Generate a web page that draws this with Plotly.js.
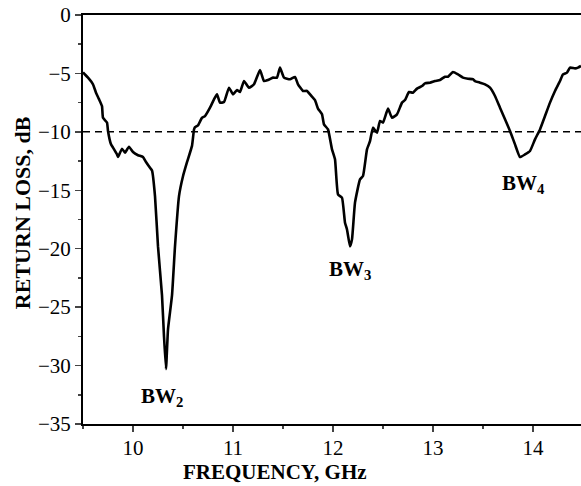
<!DOCTYPE html>
<html>
<head>
<meta charset="utf-8">
<script src="https://cdn.plot.ly/plotly-3.0.1.min.js"></script>
<style>html,body{margin:0;padding:0;background:#fff;}#chart{width:581px;height:486px;}</style>
</head>
<body>
<div id="chart"></div>
<script>
// Frequency (GHz)
const freq = [9.50,9.51,9.55,9.60,9.63,9.66,9.69,9.70,9.74,9.75,9.78,9.80,9.84,9.85,9.89,9.92,9.96,10.00,10.05,10.10,10.13,10.17,10.19,10.22,10.25,10.29,10.31,10.33,10.35,10.39,10.42,10.46,10.50,10.54,10.59,10.61,10.62,10.65,10.69,10.72,10.77,10.81,10.84,10.87,10.91,10.96,11.00,11.04,11.07,11.11,11.16,11.21,11.27,11.31,11.35,11.40,11.44,11.47,11.51,11.57,11.62,11.65,11.70,11.74,11.79,11.82,11.85,11.89,11.91,11.95,11.99,12.02,12.05,12.09,12.12,12.14,12.17,12.19,12.22,12.27,12.30,12.34,12.37,12.40,12.44,12.47,12.50,12.55,12.59,12.64,12.69,12.72,12.76,12.80,12.84,12.89,12.92,12.97,13.02,13.07,13.12,13.15,13.20,13.25,13.30,13.35,13.40,13.42,13.47,13.52,13.57,13.62,13.67,13.72,13.77,13.82,13.87,13.92,13.97,14.02,14.07,14.12,14.17,14.22,14.27,14.30,14.34,14.37,14.42,14.45,14.48];
// Return loss (dB)
const returnLoss = [-4.9,-5.0,-5.36,-5.93,-6.65,-7.2,-7.8,-8.8,-9.2,-9.93,-11.07,-11.35,-11.93,-12.15,-11.44,-11.78,-11.27,-11.73,-12.0,-12.15,-12.58,-13.07,-13.3,-15.5,-19.8,-24.0,-27.5,-30.3,-26.9,-24.0,-19.8,-15.5,-13.8,-12.6,-11.2,-9.8,-9.6,-9.44,-8.79,-8.65,-7.93,-7.22,-6.79,-7.5,-7.45,-6.22,-6.79,-6.42,-6.59,-5.65,-6.22,-5.93,-4.71,-5.65,-5.56,-5.36,-5.36,-4.5,-5.36,-5.5,-5.3,-5.93,-6.5,-6.5,-6.99,-7.28,-8.01,-8.5,-9.36,-9.79,-11.5,-12.35,-15.35,-15.64,-17.77,-18.35,-19.8,-19.2,-16.06,-14.07,-13.78,-11.5,-10.8,-9.64,-10.07,-9.07,-9.21,-8.01,-8.79,-8.5,-7.5,-7.28,-6.59,-6.65,-6.3,-6.08,-5.85,-5.79,-5.65,-5.56,-5.28,-5.28,-4.88,-5.08,-5.36,-5.45,-5.5,-5.65,-5.79,-5.93,-6.22,-6.93,-7.93,-8.93,-9.93,-11.07,-12.16,-11.93,-11.64,-10.64,-9.79,-8.65,-7.5,-6.5,-5.65,-5.08,-4.93,-4.5,-4.57,-4.5,-4.36];
const xTicks = [10, 11, 12, 13, 14];
const yTicks = [0, -5, -10, -15, -20, -25, -30, -35];
const threshold = -10;
const bandLabels = ["BW<sub>2</sub>", "BW<sub>3</sub>", "BW<sub>4</sub>"];
const bandX = [10.29, 12.17, 13.90];
const bandY = [-32.7, -21.8, -14.5];

const serif = "'Liberation Serif', 'Times New Roman', serif";

const trace = {
  x: freq, y: returnLoss, type: 'scatter', mode: 'lines',
  line: {color: '#000', width: 2.6, shape: 'spline', smoothing: 0.4},
  hoverinfo: 'skip', showlegend: false
};

const annotations = bandLabels.map((t, i) => ({
  x: bandX[i], y: bandY[i], xref: 'x', yref: 'y', text: '<b>' + t + '</b>',
  xanchor: 'center', yanchor: 'middle',
  showarrow: false, font: {family: serif, size: 21, color: '#000'}
}));
annotations.push({
  x: 0.386, y: -0.118, xref: 'paper', yref: 'paper', text: '<b>FREQUENCY, GHz</b>',
  xanchor: 'center', yanchor: 'middle',
  showarrow: false, font: {family: serif, size: 21, color: '#000'}
});
annotations.push({
  x: -0.1225, y: 0.518, xref: 'paper', yref: 'paper', text: '<b>RETURN LOSS, dB</b>',
  xanchor: 'center', yanchor: 'middle',
  textangle: -90, showarrow: false, font: {family: serif, size: 22, color: '#000'}
});

const layout = {
  width: 581, height: 486,
  margin: {l: 83, r: 0, t: 15, b: 62},
  paper_bgcolor: '#fff', plot_bgcolor: '#fff',
  showlegend: false,
  xaxis: {
    range: [9.5, 14.48], tickvals: xTicks, ticks: 'outside', ticklen: 6, tickwidth: 1.5,
    ticklabelstandoff: -2,
    minor: {dtick: 0.5, tick0: 9.5, ticks: 'outside', ticklen: 3, tickwidth: 1.5},
    showline: true, linewidth: 2, linecolor: '#000', mirror: true,
    showgrid: false, zeroline: false,
    tickfont: {family: serif, size: 21, color: '#000'}
  },
  yaxis: {
    range: [-35, 0], tickvals: yTicks, ticks: 'outside', ticklen: 6, tickwidth: 1.5,
    minor: {dtick: 2.5, tick0: 0, ticks: 'outside', ticklen: 3, tickwidth: 1.5},
    showline: true, linewidth: 2, linecolor: '#000',
    showgrid: false, zeroline: false,
    tickfont: {family: serif, size: 21, color: '#000'}
  },
  shapes: [{
    type: 'line', xref: 'paper', x0: 0, x1: 1, yref: 'y', y0: threshold, y1: threshold,
    line: {color: '#000', width: 1.5, dash: '7px,5px'}
  }],
  annotations: annotations
};

Plotly.newPlot('chart', [trace], layout, {displayModeBar: false, staticPlot: true});
</script>
</body>
</html>
